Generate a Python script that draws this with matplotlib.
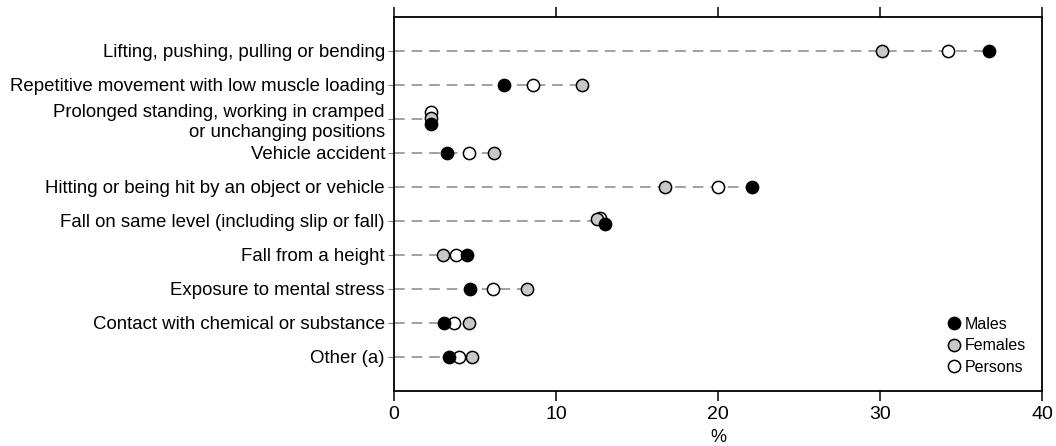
import matplotlib
matplotlib.use("Agg")
import matplotlib.pyplot as plt
from matplotlib.lines import Line2D

categories = [
    "Lifting, pushing, pulling or bending",
    "Repetitive movement with low muscle loading",
    "Prolonged standing, working in cramped\nor unchanging positions",
    "Vehicle accident",
    "Hitting or being hit by an object or vehicle",
    "Fall on same level (including slip or fall)",
    "Fall from a height",
    "Exposure to mental stress",
    "Contact with chemical or substance",
    "Other (a)",
]
males   = [36.7, 6.8, 2.3, 3.3, 22.1, 13.0, 4.5, 4.7, 3.1, 3.4]
females = [30.1, 11.6, 2.3, 6.2, 16.7, 12.5, 3.0, 8.2, 4.6, 4.8]
persons = [34.2, 8.6, 2.3, 4.6, 20.0, 12.7, 3.8, 6.1, 3.7, 4.0]
xticks = [0, 10, 20, 30, 40]
xlabel = "%"
title_text = "Mechanism of incident, by sex"

# small vertical nudges used where markers overlap (row index -> offsets)
nudge_m = {2: 0.15, 5: 0.08}
nudge_f = {2: -0.03, 5: -0.05}
nudge_p = {2: -0.20, 5: -0.08}

plt.rcParams['font.family'] = ['Liberation Sans', 'DejaVu Sans']

fig = plt.figure(figsize=(10.56, 4.46), dpi=100)
ax = fig.add_axes([394/1056, 55/446, 648/1056, 374/446])

n = len(categories)
ys = list(range(n))
for i in ys:
    mx = max(males[i], females[i], persons[i])
    ax.plot([0, mx], [i, i], color='#888888', lw=1.1, dashes=(7, 4.5), zorder=1)

ms = 8.8
ax.plot(persons, [i + nudge_p.get(i, 0) for i in ys], 'o', ms=ms, mfc='white', mec='black', mew=1.1, ls='none', zorder=3)
ax.plot(females, [i + nudge_f.get(i, 0) for i in ys], 'o', ms=ms, mfc='#c8c8c8', mec='black', mew=1.1, ls='none', zorder=4)
ax.plot(males, [i + nudge_m.get(i, 0) for i in ys], 'o', ms=ms, mfc='black', mec='black', mew=1.1, ls='none', zorder=5)

ax.set_xlim(0, 40)
ax.set_ylim(n, -1)
ax.set_xticks(xticks)
ax.set_xticklabels([str(t) for t in xticks], fontsize=14)
ax.set_yticks(ys)
ax.set_yticklabels(categories, fontsize=13.4, linespacing=1.22, multialignment='right')
ax.tick_params(axis='x', which='both', direction='out', length=7, width=1.1, top=True, labeltop=False, pad=4)
ax.tick_params(axis='y', direction='out', length=4, width=0.8, color='#808080', pad=2.5)
for s in ax.spines.values():
    s.set_linewidth(1.3)
ax.set_xlabel(xlabel, fontsize=13, labelpad=4)

handles = [
    Line2D([], [], marker='o', ls='none', ms=ms, mfc='black', mec='black', mew=1.1),
    Line2D([], [], marker='o', ls='none', ms=ms, mfc='#c8c8c8', mec='black', mew=1.1),
    Line2D([], [], marker='o', ls='none', ms=ms, mfc='white', mec='black', mew=1.1),
]
ax.legend(handles, ["Males", "Females", "Persons"], loc='lower right',
          bbox_to_anchor=(1.0, 0.0), frameon=False, fontsize=11.5,
          handlelength=0.6, handletextpad=0.4, labelspacing=0.42, borderaxespad=0.6)

fig.text(1010/1056, 1.0 + 4/446, title_text, ha='right', va='baseline', fontsize=14)

fig.savefig("out.png", dpi=100)
